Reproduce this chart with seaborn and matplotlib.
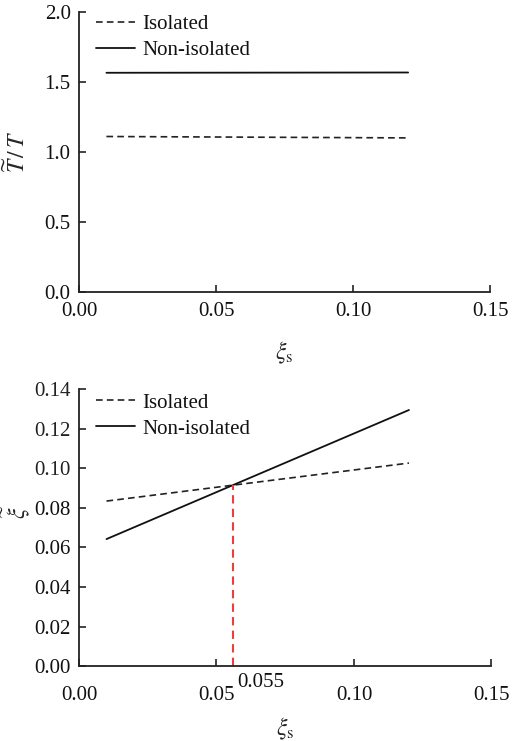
import matplotlib
matplotlib.use("Agg")
import matplotlib.pyplot as plt
import seaborn as sns
import pandas as pd

sns.set_theme(style="ticks")
plt.rcParams['font.family'] = ['Liberation Serif', 'DejaVu Serif']
plt.rcParams['mathtext.fontset'] = 'stix'

# Data
xi_s = [0.01, 0.12]
top_isolated = [1.11, 1.10]
top_nonisolated = [1.565, 1.567]
bot_isolated = [0.0834, 0.1026]
bot_nonisolated = [0.0642, 0.1294]
cross_x = 0.056
cross_y = 0.0915
cross_label = "0.055"

fig = plt.figure(figsize=(5.13, 7.41), dpi=100)
ax1 = fig.add_axes([0.154, 0.606, 0.802, 0.378])
ax2 = fig.add_axes([0.154, 0.101, 0.804, 0.374])

def style(ax, xpad):
    for s in ['top', 'right']:
        ax.spines[s].set_visible(False)
    for s in ['left', 'bottom']:
        ax.spines[s].set_linewidth(1.3)
        ax.spines[s].set_color('#222222')
    ax.tick_params(direction='in', length=5, width=1.2, labelsize=15, colors='#222222')
    ax.tick_params(axis='x', pad=xpad)
    ax.tick_params(axis='y', pad=6)
    for lab in ax.get_xticklabels() + ax.get_yticklabels():
        lab.set_color('#111111')

df1 = pd.DataFrame({'x': xi_s * 2,
                    'y': top_isolated + top_nonisolated,
                    'series': ['Isolated'] * 2 + ['Non-isolated'] * 2})
df2 = pd.DataFrame({'x': xi_s * 2,
                    'y': bot_isolated + bot_nonisolated,
                    'series': ['Isolated'] * 2 + ['Non-isolated'] * 2})

for ax, df, xpad, xly, ly in [(ax1, df1, 7, -0.171, 1.02), (ax2, df2, 14, -0.178, 1.015)]:
    sns.lineplot(data=df[df.series == 'Isolated'], x='x', y='y', ax=ax,
                 color='#222222', linestyle=(0, (4, 2.5)), linewidth=1.2, label='Isolated')
    sns.lineplot(data=df[df.series == 'Non-isolated'], x='x', y='y', ax=ax,
                 color='#111111', linestyle='-', linewidth=1.3, label='Non-isolated')
    ax.set_xlim(0, 0.15)
    ax.set_xticks([0, 0.05, 0.10, 0.15])
    ax.set_xticklabels(['0.00', '0.05', '0.10', '0.15'])
    leg = ax.legend(loc='upper left', frameon=False, fontsize=15, handlelength=1.85,
                    borderaxespad=0.0, labelspacing=0.3, bbox_to_anchor=(0.022, ly),
                    handletextpad=0.35)
    for t in leg.get_texts():
        t.set_color('#111111')
    ax.set_xlabel(r'$\xi_{\mathrm{s}}$', fontsize=17)
    ax.xaxis.set_label_coords(0.5, xly)
    style(ax, xpad)

ax1.set_ylim(0, 2.0)
ax1.set_yticks([0, 0.5, 1.0, 1.5, 2.0])
ax1.set_yticklabels(['0.0', '0.5', '1.0', '1.5', '2.0'])
ax1.set_ylabel(r'$\widetilde{T}\,/\,T$', fontsize=17)
ax1.yaxis.set_label_coords(-0.118, 0.5)

ax2.set_ylim(0, 0.14)
ax2.set_yticks([0, 0.02, 0.04, 0.06, 0.08, 0.10, 0.12, 0.14])
ax2.set_yticklabels(['0.00', '0.02', '0.04', '0.06', '0.08', '0.10', '0.12', '0.14'])
ax2.set_ylabel(r'$\widetilde{\xi}$', fontsize=17)
ax2.yaxis.set_label_coords(-0.115, 0.556)
ax2.plot([cross_x, cross_x], [0, cross_y], color='#e8413c', linestyle=(0, (4, 2.5)), linewidth=1.5)
ax2.text(cross_x + 0.0015, -0.0035, cross_label, fontsize=15, ha='left', va='top', color='#111111')

fig.savefig('out.png', dpi=100)
